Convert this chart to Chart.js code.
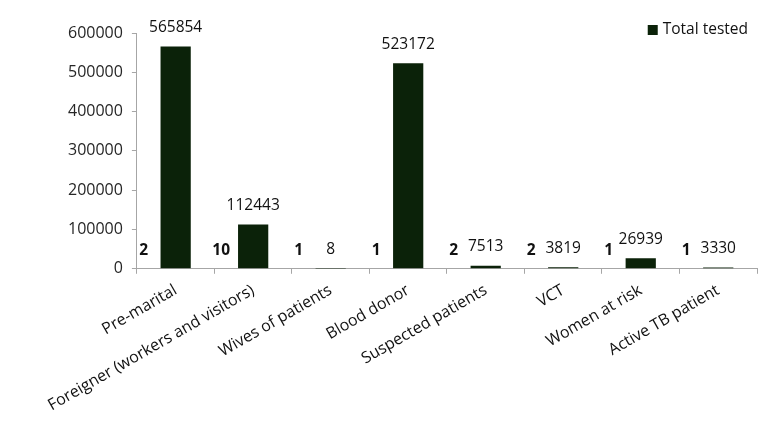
<!DOCTYPE html>
<html>
<head>
<meta charset="utf-8">
<script src="https://cdn.jsdelivr.net/npm/chart.js@4.4.0/dist/chart.umd.min.js"></script>
<style>
  html, body { margin: 0; padding: 0; background: #fff; }
  #wrap { width: 771px; height: 436px; position: relative; }
</style>
</head>
<body>
<div id="wrap"><canvas id="testChart"></canvas></div>
<script>
const categories = ['Pre-marital', 'Foreigner (workers and visitors)', 'Wives of patients', 'Blood donor',
  'Suspected patients', 'VCT', 'Women at risk', 'Active TB patient'];
const totalTested = [565854, 112443, 8, 523172, 7513, 3819, 26939, 3330];
const positives = [2, 10, 1, 1, 2, 2, 1, 1];
const yMax = 600000;
const yStep = 100000;

const barColor = '#0b2209';
const axisColor = '#a6a6a6';

Chart.defaults.font.family = '"Open Sans", "Liberation Sans", sans-serif';
Chart.defaults.font.size = 16;
Chart.defaults.color = '#262626';

// value labels over the bars, bold counts to the left of each bar
const barLabels = {
  id: 'barLabels',
  afterDatasetsDraw(chart) {
    const ctx = chart.ctx;
    ctx.save();
    ctx.textAlign = 'center';
    ctx.textBaseline = 'middle';
    ctx.fillStyle = '#111';
    ctx.font = '15.5px "Open Sans"';
    chart.getDatasetMeta(0).data.forEach((bar, i) => {
      ctx.fillText(totalTested[i], bar.x, bar.y - 19);
    });
    ctx.font = 'bold 15.5px "Open Sans"';
    chart.getDatasetMeta(1).data.forEach((bar, i) => {
      ctx.fillText(positives[i], bar.x - 32, bar.y - 18);
    });
    ctx.restore();
  }
};

// legend sits at top right, just above the plot
const cornerLegend = {
  id: 'cornerLegend',
  afterDraw(chart) {
    const ctx = chart.ctx;
    const ds = chart.data.datasets[0];
    const right = chart.chartArea.right - 9;
    const y = chart.chartArea.top - 3;
    ctx.save();
    ctx.font = '15.5px "Open Sans"';
    ctx.textBaseline = 'middle';
    ctx.textAlign = 'right';
    ctx.fillStyle = '#111';
    ctx.fillText(ds.label, right, y);
    const w = ctx.measureText(ds.label).width;
    ctx.fillStyle = ds.backgroundColor;
    ctx.fillRect(right - w - 15, y - 5, 10, 10);
    ctx.restore();
  }
};

lineChart = new Chart(document.getElementById('testChart'), {
  type: 'bar',
  data: {
    labels: categories,
    datasets: [{
      label: 'Total tested',
      data: totalTested,
      backgroundColor: barColor,
      grouped: false,
      categoryPercentage: 1,
      barPercentage: 0.39
    }, {
      label: 'Positive',
      data: positives,
      backgroundColor: 'rgba(0,0,0,0)',
      grouped: false,
      categoryPercentage: 1,
      barPercentage: 0.39
    }]
  },
  options: {
    responsive: true,
    maintainAspectRatio: false,
    animation: false,
    layout: { padding: { left: 59, right: 14, top: 33, bottom: 14 } },
    plugins: {
      legend: { display: false },
      tooltip: { enabled: false }
    },
    scales: {
      x: {
        grid: { drawOnChartArea: false, tickLength: 5, color: axisColor, offset: true },
        border: { color: axisColor },
        ticks: { minRotation: 30, maxRotation: 30, padding: 7, color: '#111' }
      },
      y: {
        min: 0,
        max: yMax,
        grid: { drawOnChartArea: false, tickLength: 5, color: axisColor },
        border: { color: axisColor },
        ticks: { stepSize: yStep, padding: 9, color: '#262626', callback: v => String(v) }
      }
    }
  },
  plugins: [barLabels, cornerLegend]
});
</script>
</body>
</html>
